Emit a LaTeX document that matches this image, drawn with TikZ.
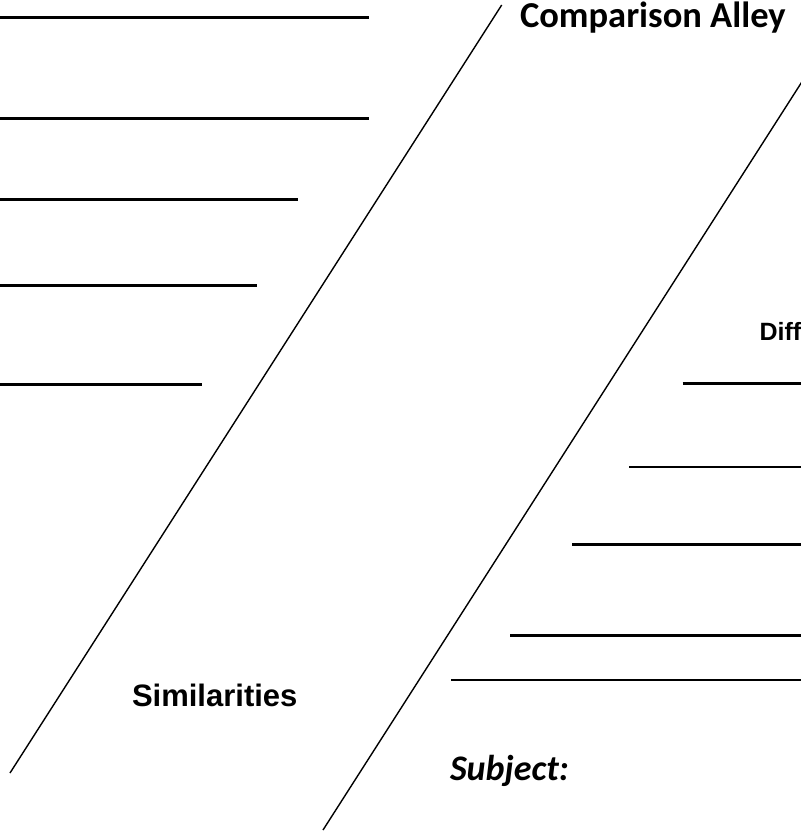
\documentclass[tikz,border=0pt]{standalone}
\usepackage{fontspec}
\newfontfamily\carl{Carlito}
\newfontfamily\arialf{Liberation Sans}
\tikzset{
  rule/.style={line width=2.4pt},
  thinrule/.style={line width=2pt},
  slant/.style={line width=1.4pt},
  lbl/.style={inner sep=0pt, outer sep=0pt, anchor=base west}
}
\begin{document}
\begin{tikzpicture}[x=1pt,y=-1pt]
\useasboundingbox (0,0) rectangle (801,831);
\begin{scope}
\clip (0,0) rectangle (801,831);
% left answer lines
\draw[rule] (0,17.3) -- (369,17.3);
\draw[rule] (0,118.3) -- (369,118.3);
\draw[rule] (0,199.3) -- (297.7,199.3);
\draw[rule] (0,285.3) -- (257,285.3);
\draw[rule] (0,384.3) -- (202,384.3);
% right answer lines
\draw[rule] (682.7,383.3) -- (801,383.3);
\draw[thinrule] (629.3,466.7) -- (801,466.7);
\draw[rule] (572,544.3) -- (801,544.3);
\draw[rule] (510,635.3) -- (801,635.3);
\draw[thinrule] (451,680) -- (801,680);
% alley borders
\coordinate (a1) at (501.7,5);
\coordinate (b1) at (10,773);
\coordinate (a2) at (805,77);
\coordinate (b2) at (323,830);
\draw[slant] (a1) -- (b1);
\draw[slant] (a2) -- (b2);
\end{scope}
% labels
\node[lbl] (title) at (520,27) {\carl\bfseries\fontsize{36.5}{40}\selectfont Comparison Alley};
\node[lbl] (sim) at (132,706) {\arialf\bfseries\fontsize{31}{34}\selectfont Similarities};
\node[lbl] (subj) at (450,780) {\carl\bfseries\itshape\fontsize{36}{40}\selectfont Subject:};
\node[lbl] (diff) at (759.5,340) {\arialf\bfseries\fontsize{25}{28}\selectfont Diff};
\end{tikzpicture}
\end{document}
